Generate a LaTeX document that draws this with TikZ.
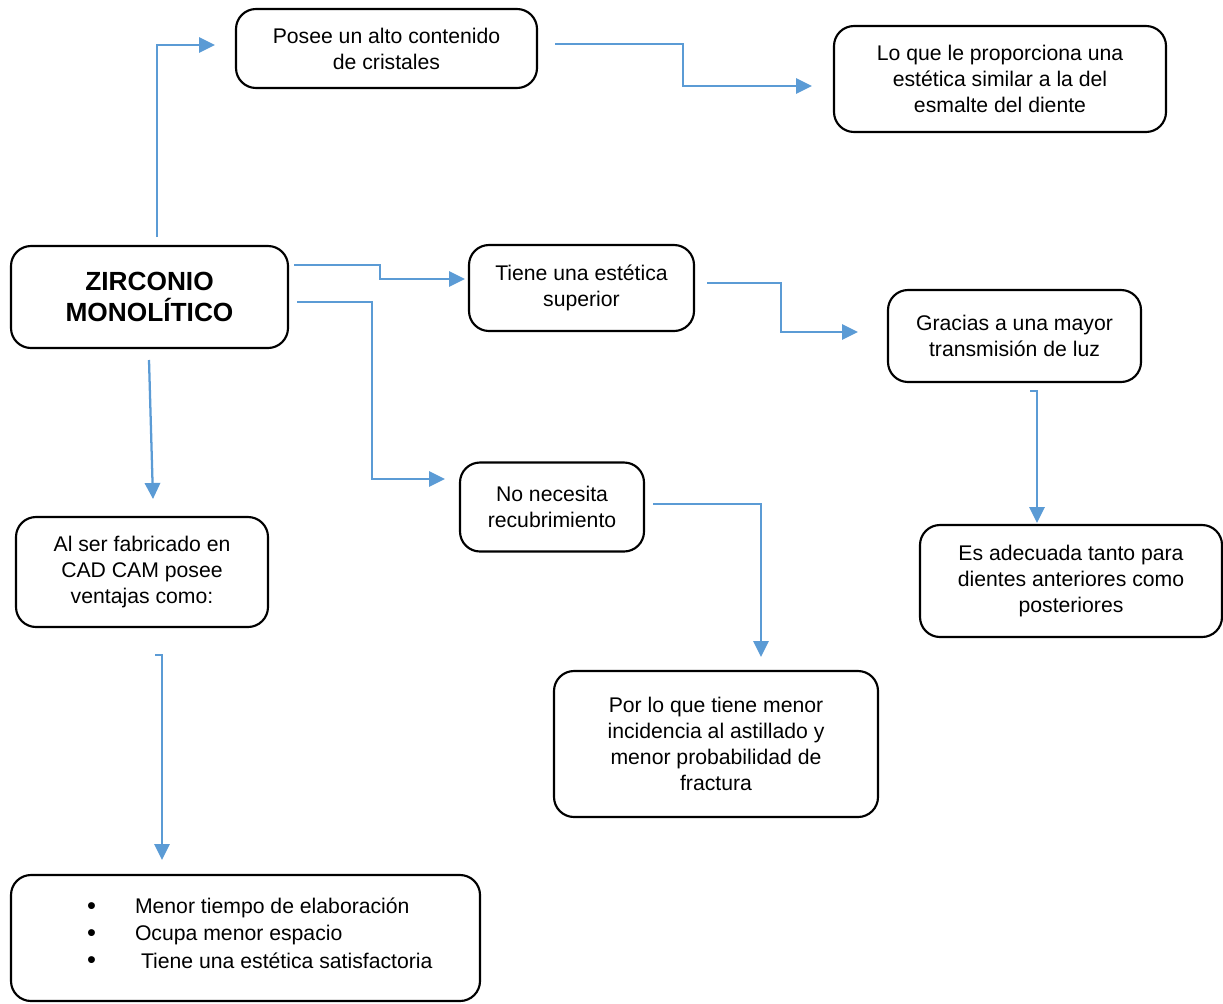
\documentclass[tikz,border=0pt]{standalone}
\usepackage{fontspec}
\setmainfont{Liberation Sans}
\usetikzlibrary{arrows.meta}
\definecolor{conn}{HTML}{5B9BD5}
\newcommand{\bigbul}{\raisebox{-0.5pt}{\scalebox{1.2}{\textbullet}}}
\begin{document}
\begin{tikzpicture}[x=0.75pt,y=-0.75pt,
  box/.style={draw=black,line width=1.6pt,rounded corners=15pt,align=center,
    inner sep=0pt,font=\fontsize{15.9}{19.5}\selectfont},
  link/.style={draw=conn,line width=1.7pt,-{Triangle[length=12pt,width=11.5pt]}}]
\useasboundingbox (0,0) rectangle (1223,1003);

\node[box,minimum width=301*0.75pt,minimum height=79*0.75pt] (posee) at (386.5,48.5)
  {Posee un alto contenido\\de cristales};
\node[box,minimum width=332*0.75pt,minimum height=106*0.75pt] (lo) at (1000,79)
  {Lo que le proporciona una\\est\'etica similar a la del\\esmalte del diente};
\node[box,minimum width=277*0.75pt,minimum height=102*0.75pt,
  font=\fontsize{19.7}{23.3}\selectfont\bfseries] (zr) at (149.5,297)
  {ZIRCONIO\\MONOL\'ITICO};
\node[box,minimum width=225*0.75pt,minimum height=86*0.75pt] (tiene) at (581.5,288)
  {Tiene una est\'etica\\superior};
\node[box,minimum width=253*0.75pt,minimum height=92*0.75pt] (gracias) at (1014.5,336)
  {Gracias a una mayor\\transmisi\'on de luz};
\node[box,minimum width=302*0.75pt,minimum height=112*0.75pt] (es) at (1071,581)
  {Es adecuada tanto para\\dientes anteriores como\\posteriores};
\node[box,minimum width=184*0.75pt,minimum height=89*0.75pt] (no) at (552,507)
  {No necesita\\recubrimiento};
\node[box,minimum width=252*0.75pt,minimum height=110*0.75pt] (al) at (142,572)
  {Al ser fabricado en\\CAD CAM posee\\ventajas como:};
\node[box,minimum width=324*0.75pt,minimum height=146*0.75pt] (por) at (716,744)
  {Por lo que tiene menor\\incidencia al astillado y\\menor probabilidad de\\fractura};
\node[box,minimum width=469*0.75pt,minimum height=126*0.75pt,align=left] (ventajas) at (245.5,938)
  {\parbox{469\dimexpr0.75pt\relax}{\fontsize{15.9}{20.6}\selectfont
   \hspace*{57pt}\makebox[36pt][l]{\bigbul}Menor tiempo de elaboraci\'on\\
   \hspace*{57pt}\makebox[36pt][l]{\bigbul}Ocupa menor espacio\\
   \hspace*{57pt}\makebox[36pt][l]{\bigbul}\hspace{4.5pt}Tiene una est\'etica satisfactoria\vspace*{7pt}}};

% connector end points
\coordinate (a0) at (157,237); \coordinate (a1) at (215,45);
\coordinate (b0) at (555,44);  \coordinate (b1) at (812,86);
\coordinate (c0) at (294,265); \coordinate (c1) at (465,279);
\coordinate (d0) at (297,302); \coordinate (d1) at (445,479);
\coordinate (e0) at (707,283); \coordinate (e1) at (858,332);
\coordinate (f0) at (1030,391);\coordinate (f1) at (1037,523);
\coordinate (g0) at (149,360); \coordinate (g1) at (153,499);
\coordinate (h0) at (653,504); \coordinate (h1) at (761,657);
\coordinate (i0) at (155,655); \coordinate (i1) at (162,860);

\draw[link] (a0) |- (a1);
\draw[link] (b0) -- (683,44) |- (b1);
\draw[link] (c0) -- (380,265) |- (c1);
\draw[link] (d0) -- (372,302) |- (d1);
\draw[link] (e0) -- (781,283) |- (e1);
\draw[link] (f0) -| (f1);
\draw[link] (g0) -- (g1);
\draw[link] (h0) -| (h1);
\draw[link] (i0) -| (i1);
\end{tikzpicture}
\end{document}
